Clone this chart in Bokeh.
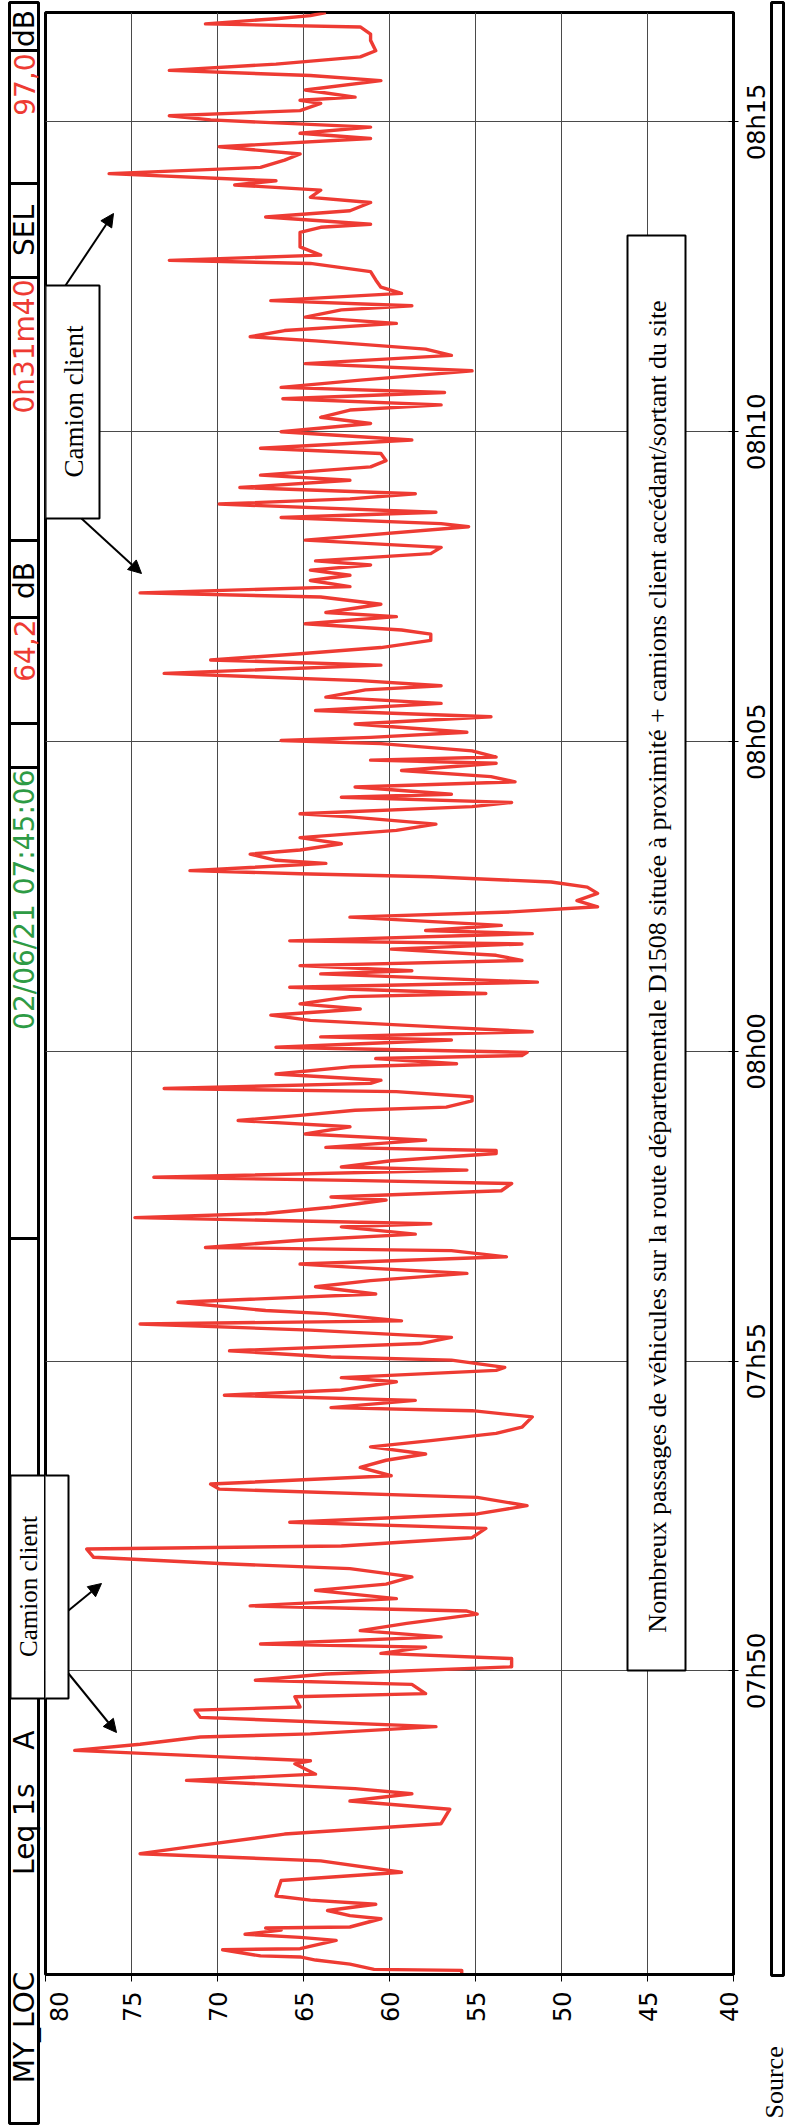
from math import pi
from bokeh.plotting import figure
from bokeh.layouts import row, column
from bokeh.models import Range1d, FixedTicker, BoxAnnotation, Label, Arrow, NormalHead
from bokeh.embed import file_html
from bokeh.resources import INLINE

# ---------------- data ----------------
start_s = 27906          # 07:45:06 in seconds of the day
duration_s = 1900        # 0h31m40

# seconds after the start, and Leq 1s in dB(A)
t_s = [0, 4, 5, 10, 14, 17, 18, 24, 25, 33, 36, 39, 43, 45, 46, 54, 57, 62, 68,
       72, 76, 91, 99, 110, 117, 125, 136, 146, 160, 168, 175, 180, 188, 194, 204, 207,
       217, 223, 230, 233, 240, 249, 256, 259, 269, 272, 281, 285, 291, 298, 306, 311,
       317, 320, 327, 333, 340, 349, 352, 357, 364, 372, 378, 385, 393, 398, 404, 412,
       415, 423, 432, 438, 446, 454, 462, 470, 475, 483, 491, 498, 504,
       511, 517, 524, 530, 540, 546, 549, 556, 561, 566, 574, 578, 585, 588, 595, 598,
       604, 611, 617, 624, 630, 633, 640, 643, 651, 659, 666, 672, 679, 685, 688, 695,
       701, 704, 711, 717, 724, 727, 733, 737, 743, 750, 753, 759, 766, 769, 772, 779,
       782, 788, 795, 798, 801, 808, 814, 821, 827, 832, 837, 840, 846, 850, 855, 858,
       863, 866, 872, 879, 882, 887, 890, 893, 898, 905, 908, 913, 917, 924, 929, 935, 940,
       947, 950, 956, 961, 969, 972, 977, 982, 987, 993, 998, 1001, 1008, 1011, 1016,
       1024, 1029, 1034, 1040, 1047, 1053, 1058, 1063, 1066, 1069, 1072, 1076, 1079,
       1085, 1089, 1095, 1101, 1108, 1114, 1121, 1124, 1131, 1135, 1140, 1143, 1150,
       1155, 1160, 1166, 1173, 1176, 1179, 1185, 1192, 1195, 1198, 1203, 1211, 1218,
       1224, 1231, 1237, 1244, 1248, 1253, 1260, 1268, 1273, 1279, 1285, 1292, 1298,
       1302, 1308, 1315, 1319, 1327, 1334, 1338, 1344, 1350, 1355, 1360, 1365, 1369, 1376,
       1382, 1389, 1402, 1405, 1411, 1416, 1424, 1429, 1434, 1440, 1447, 1452, 1460,
       1466, 1473, 1478, 1486, 1494, 1502, 1508, 1515, 1520, 1526, 1532, 1537, 1544,
       1553, 1560, 1568, 1574, 1582, 1586, 1592, 1599, 1605, 1612, 1616, 1621, 1628,
       1634, 1641, 1649, 1657, 1660, 1665, 1673, 1679, 1687, 1692, 1695, 1702, 1708,
       1716, 1721, 1728, 1733, 1737, 1744, 1750, 1757, 1763, 1770, 1778, 1783, 1789,
       1796, 1800, 1805, 1812,
       1815, 1818, 1825, 1834, 1839, 1844, 1850, 1857, 1863, 1873, 1879, 1886, 1889,
       1894, 1897, 1900]

leq_db = [55.8, 55.8, 60.9, 62.3, 64.3, 65.2, 67.5, 69.7, 65.2, 63.1, 65.2, 68.4, 66.3, 67.2, 62.3, 60.5, 62.3, 63.6, 60.8,
          64.6, 66.6, 66.3, 59.3, 64.0, 74.5, 71.0, 66.1, 57.0, 56.5, 62.3, 58.7, 62.0, 71.8, 64.3, 65.5, 64.6,
          78.3, 74.5, 71.0, 64.6, 57.3, 71.0, 71.3, 65.2, 65.5, 57.9, 58.7, 67.8, 63.7, 52.9, 52.9, 60.5,
          57.9, 67.5, 57.0, 61.7, 59.0, 54.9, 55.5, 68.1, 59.6, 64.3, 60.2, 58.7, 62.3, 69.9, 77.2, 77.6,
          62.8, 55.2, 54.4, 65.8, 54.9, 52.0, 54.9, 69.9, 70.4, 59.9, 61.7, 60.2, 57.9,
          61.1, 57.6, 53.8, 52.3, 51.7, 55.2, 63.4, 58.5, 69.6, 62.8, 59.6, 62.8, 53.8, 53.3, 56.4, 63.4,
          69.3, 58.2, 56.4, 64.6, 74.5, 59.3, 63.7, 67.2, 72.3, 60.8, 64.3, 61.1, 55.5, 62.3, 65.2, 53.2,
          56.4, 70.7, 65.2, 58.5, 62.8, 57.6, 74.8, 67.2, 63.4, 60.2, 63.4, 53.5, 52.9, 62.3, 73.7, 55.5,
          62.8, 59.9, 53.8, 53.8, 63.7, 57.9, 64.9, 62.3, 68.8, 65.2, 62.0, 56.7, 55.2, 55.2, 59.6, 73.1,
          61.1, 60.5, 66.6, 62.3, 56.1, 60.8, 52.3, 52.0, 66.6, 56.4, 64.0, 51.7, 56.4, 64.6, 66.9, 61.7, 65.2,
          62.3, 54.4, 65.8, 51.4, 64.0, 58.7, 65.2, 52.3, 53.8, 59.9, 52.3, 65.8, 51.7, 57.9, 53.5,
          62.3, 52.9, 47.9, 49.1, 47.9, 48.5, 50.6, 57.6, 65.2, 71.6, 68.1, 63.7, 66.6,
          68.1, 65.2, 62.8, 65.2, 59.6, 57.3, 62.3, 65.2, 55.2, 52.9, 62.8, 56.4, 62.0,
          52.7, 54.1, 59.3, 53.8, 61.1, 53.8, 55.2, 60.5, 66.3, 61.1, 55.5, 62.0, 54.1,
          64.3, 57.0, 63.7, 61.4, 57.0, 61.7, 73.1, 60.5, 70.4, 65.2, 60.5, 57.6, 57.6,
          59.3, 64.9, 59.6, 63.7, 60.5, 64.0, 74.5, 62.3, 64.6, 62.3, 64.6, 61.1, 64.3, 57.6,
          57.0, 64.9, 55.4, 57.0, 66.3, 57.3, 69.9, 62.3, 58.5, 68.7, 62.3, 67.5, 61.1,
          60.2, 60.5, 67.5, 58.7, 66.3, 61.1, 64.0, 62.3, 57.0, 66.2, 56.8, 66.3, 61.7,
          55.2, 64.9, 56.4, 57.9, 64.3, 68.1, 66.1, 59.6, 64.9, 62.8, 58.7, 66.9, 59.3,
          60.5, 60.8, 61.1, 64.6, 72.8, 64.0, 65.2, 65.2, 65.2, 64.0, 61.1, 67.2, 62.3,
          61.1, 64.6, 64.0, 69.0, 66.6, 76.3, 67.5, 66.1, 65.2, 69.9, 61.1, 65.2, 61.1,
          70.4, 72.8, 65.2, 64.0,
          65.2, 62.0, 64.9, 60.5, 64.6, 72.8, 66.6, 61.7, 60.8, 61.1, 61.1, 61.7, 70.7,
          66.6, 64.6, 63.7]

db_ticks = [80, 75, 70, 65, 60, 55, 50, 45, 40]
time_tick_s = [28200, 28500, 28800, 29100, 29400, 29700]
time_tick_labels = ["07h50", "07h55", "08h00", "08h05", "08h10", "08h15"]

site_name = "MY_LOC"
index_name = "Leq 1s"
weighting = "A"
start_text = "02/06/21 07:45:06"
leq_text = "64,2"
duration_text = "0h31m40"
sel_name = "SEL"
sel_text = "97,0"
unit = "dB"
callout = "Camion client"
note = ("Nombreux passages de véhicules sur la route départementale D1508 "
        "située à proximité + camions client accédant/sortant du site")
source = "Source"

# ---------------- geometry (page pixels) ----------------
PW, PH = 790, 2127
LX1 = 44            # left strip panel: x 0 .. 44, full height
RX0 = 742           # right panel: x 742 .. 790 (time labels, side frame)
H1 = 1990           # chart row height; bottom panel below it (dB labels)
FX0, FX1, FY0, FY1 = 45, 733, 12, 1974   # chart frame
t0, t1 = start_s, start_s + duration_s


def X(px):
    return 80 - (px - FX0) * 40.0 / (FX1 - FX0)


def Y(py):
    return t0 + (FY1 - py) * (t1 - t0) / (FY1 - FY0)


def ident(v):
    return v


SANS = "DejaVu Sans"
SERIF = "Liberation Serif"
RED = "#EE3B33"
GREEN = "#2E9B45"


def no_align(f):
    try:
        f.frame_align = False
    except Exception:
        pass


def box(fig, fx, fy, x0, x1, y0, y1, lw=2, fill="white", alpha=1.0):
    fig.add_layout(BoxAnnotation(left=fx(x0), right=fx(x1), top=fy(y0), bottom=fy(y1),
                                 fill_color=fill, fill_alpha=alpha,
                                 line_color="black", line_width=lw, line_alpha=1))


def seg(fig, fx, fy, xa, ya, xb, yb, lw=2, head=False):
    fig.add_layout(Arrow(x_start=fx(xa), y_start=fy(ya), x_end=fx(xb), y_end=fy(yb),
                         line_color="black", line_width=lw,
                         end=NormalHead(size=13, fill_color="black", line_color="black") if head else None))


def txt(fig, fx, fy, px, py, s, font=SANS, size="28px", color="black", align="center", dx=0):
    fig.add_layout(Label(x=fx(px), y=fy(py), text=s, angle=pi / 2, text_align=align,
                         text_baseline="middle", text_font=font, text_font_size=size,
                         text_color=color, x_offset=dx))


def panel(width, height, x_range, y_range):
    f = figure(width=width, height=height, x_range=x_range, y_range=y_range,
               output_backend="svg", toolbar_location=None,
               x_axis_location=None, y_axis_location=None,
               min_border=0, min_border_left=0, min_border_right=0,
               min_border_top=0, min_border_bottom=0)
    f.grid.visible = False
    f.outline_line_color = None
    f.background_fill_color = "white"
    f.border_fill_color = "white"
    no_align(f)
    return f


# ---------------- main chart ----------------
p = figure(width=RX0 - LX1, height=H1, x_range=Range1d(80, 40), y_range=Range1d(t0, t1),
           output_backend="svg", toolbar_location=None, y_axis_location="right",
           min_border_left=FX0 - LX1, min_border_right=RX0 - FX1,
           min_border_top=FY0, min_border_bottom=H1 - FY1)
no_align(p)
p.background_fill_color = "white"
p.border_fill_color = "white"
p.outline_line_color = "black"
p.outline_line_width = 3

# dB axis: ticks on the chart, labels drawn below in the bottom panel
p.xaxis.ticker = FixedTicker(ticks=db_ticks)
p.xaxis.major_label_overrides = {d: "" for d in db_ticks}
p.xaxis.major_label_text_font_size = "1px"
p.xaxis.major_tick_in = 0
p.xaxis.major_tick_out = 7
p.xaxis.major_label_standoff = 0
p.xaxis.minor_tick_line_color = None
p.xaxis.axis_line_width = 3

# time axis: ticks on the chart, labels drawn centred on them in the right panel
p.yaxis.ticker = FixedTicker(ticks=time_tick_s)
p.yaxis.major_label_overrides = {t: "" for t in time_tick_s}
p.yaxis.major_label_text_font_size = "1px"
p.yaxis.major_tick_in = 5
p.yaxis.major_tick_out = 5
p.yaxis.major_label_standoff = 0
p.yaxis.minor_tick_line_color = None
p.yaxis.axis_line_width = 3

p.xgrid.ticker = FixedTicker(ticks=db_ticks[1:-1])
p.ygrid.ticker = FixedTicker(ticks=time_tick_s)
for g in (p.xgrid, p.ygrid):
    g.grid_line_color = "#4a4a4a"
    g.grid_line_width = 1

p.line(x=leq_db, y=[t0 + s for s in t_s], line_color=RED, line_width=3.4, line_join="round")

# big comment box
box(p, X, Y, 627, 685, 235, 1670)
txt(p, X, Y, 657, 966, note, font=SERIF, size="26px")

# "Camion client" callouts
box(p, X, Y, 45, 99, 285, 518)
txt(p, X, Y, 73, 401, callout, font=SERIF, size="27px")
seg(p, X, Y, 65, 285, 113, 213, head=True)
seg(p, X, Y, 81, 518, 141, 573, head=True)

box(p, X, Y, 10, 68, 1475, 1698)
seg(p, X, Y, 68, 1610, 101, 1583, head=True)
seg(p, X, Y, 68, 1673, 116, 1732, head=True)

# ---------------- left header strip (full height) ----------------
L = panel(LX1, PH, Range1d(0, LX1), Range1d(PH, 0))
box(L, ident, ident, 9, 38, 2, 2123, lw=3)
for yy in (50, 183, 277, 540, 617, 723, 767, 1238):
    seg(L, ident, ident, 9, yy, 38, yy, lw=3)
txt(L, ident, ident, 24, 28, unit)
txt(L, ident, ident, 24, 53, sel_text, color=RED, align="right")
txt(L, ident, ident, 24, 230, sel_name)
txt(L, ident, ident, 24, 279, duration_text, color=RED, align="right")
txt(L, ident, ident, 24, 580, unit)
txt(L, ident, ident, 24, 619, leq_text, color=RED, align="right")
txt(L, ident, ident, 24, 769, start_text, color=GREEN, align="right")
txt(L, ident, ident, 24, 1730, weighting, align="right")
txt(L, ident, ident, 24, 1783, index_name, align="right")
txt(L, ident, ident, 24, 2027, site_name)
box(L, ident, ident, 10, 70, 1475, 1698)
txt(L, ident, ident, 28, 1586, callout, font=SERIF, size="25px")

# ---------------- right panel: time labels and side frame ----------------
R = panel(PW - RX0, H1, Range1d(RX0, PW), Range1d(Y(H1), Y(0)))
for ts, lab in zip(time_tick_s, time_tick_labels):
    R.add_layout(Label(x=756, y=ts, text=lab, angle=pi / 2, text_align="center",
                       text_baseline="middle", text_font=SANS, text_font_size="24px",
                       text_color="black"))
box(R, ident, Y, 771, 783, 2, 1975, lw=3, alpha=0.0)

# ---------------- bottom panel: dB labels and source ----------------
B = panel(PW - LX1, PH - H1, Range1d(X(LX1), X(PW)), Range1d(PH, H1))
for d in db_ticks:
    shift = 13 if d == db_ticks[0] else (-5 if d == db_ticks[-1] else 0)
    B.add_layout(Label(x=d, y=1991, text=str(d), angle=pi / 2, text_align="right",
                       text_baseline="middle", text_font=SANS, text_font_size="24px",
                       text_color="black", x_offset=shift))
txt(B, X, ident, 774, 2118, source, font=SERIF, size="26px", align="left")

layout = row(L, column(row(p, R, spacing=0), B, spacing=0), spacing=0)
open("out.html", "w").write(file_html(layout, INLINE))
